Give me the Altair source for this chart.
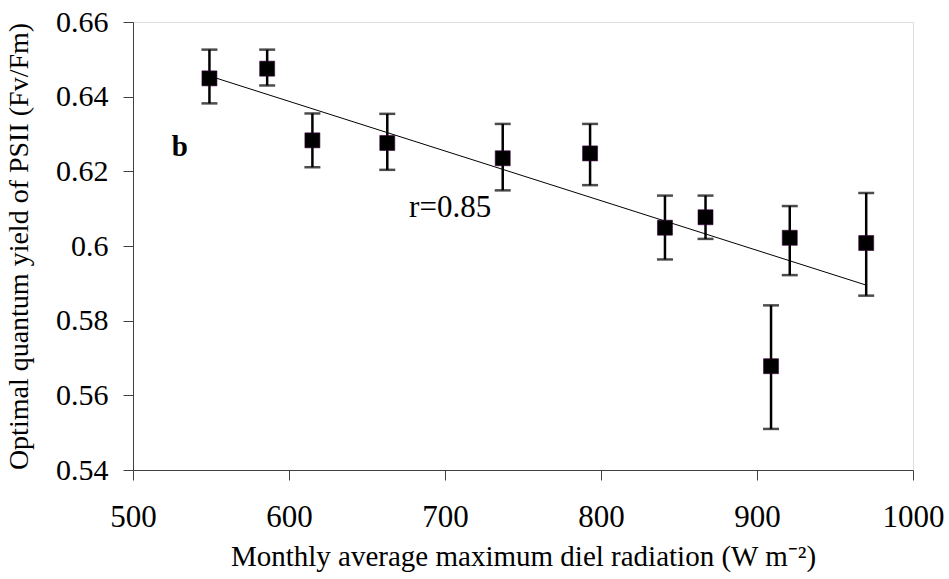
import altair as alt
import pandas as pd

# Monthly average maximum diel radiation (W m-2)
radiation = [549, 586, 615, 663, 737, 793, 841, 867, 909, 921, 970]
# Optimal quantum yield of PSII (Fv/Fm)
fvfm = [0.6449, 0.6475, 0.6283, 0.6276, 0.6235, 0.6248, 0.6049, 0.6077, 0.5678, 0.6022, 0.6008]
err_hi = [0.6526, 0.6526, 0.6355, 0.6354, 0.6327, 0.6327, 0.6135, 0.6135, 0.5841, 0.6107, 0.6142]
err_lo = [0.6382, 0.6430, 0.6211, 0.6204, 0.6149, 0.6163, 0.5964, 0.6019, 0.5510, 0.5922, 0.5867]
x_ticks = [500, 600, 700, 800, 900, 1000]
y_ticks = [0.54, 0.56, 0.58, 0.60, 0.62, 0.64, 0.66]

df = pd.DataFrame({"rad": radiation, "y": fvfm, "hi": err_hi, "lo": err_lo})

FONT = "Liberation Serif"

x_enc = alt.X("rad:Q", scale=alt.Scale(domain=[500, 1000], nice=False),
              axis=alt.Axis(title="Monthly average maximum diel radiation (W m⁻²)",
                            values=x_ticks, format="d", labelPadding=22, titlePadding=10,
                            labelFontSize=31, titleFontSize=29))
y_scale = alt.Scale(domain=[0.54, 0.66], nice=False, zero=False)
y_axis = alt.Axis(title="Optimal quantum yield of PSII (Fv/Fm)",
                  values=y_ticks, format="~g", labelPadding=15, titlePadding=22,
                  labelFontSize=30, titleFontSize=28)

base = alt.Chart(df)

bars = base.mark_rule(color="black", strokeWidth=2.5).encode(
    x=x_enc, y=alt.Y("lo:Q", scale=y_scale, axis=y_axis), y2="hi:Q")
caps_hi = base.mark_tick(color="black", thickness=2.5, size=16, orient="horizontal").encode(
    x="rad:Q", y="hi:Q")
caps_lo = base.mark_tick(color="black", thickness=2.5, size=16, orient="horizontal").encode(
    x="rad:Q", y="lo:Q")
trend = base.transform_regression("rad", "y").mark_line(color="black", strokeWidth=1).encode(
    x="rad:Q", y="y:Q")
points = base.mark_square(size=225, color="black", opacity=1, stroke="#3a003a",
                          strokeWidth=0.6, filled=True).encode(x="rad:Q", y="y:Q")

notes = pd.DataFrame({"rad": [677], "y": [0.6103], "t": ["r=0.85"]})
r_text = alt.Chart(notes).mark_text(align="left", baseline="middle", font=FONT,
                                     fontSize=31, color="black").encode(
    x="rad:Q", y="y:Q", text="t:N")
panel = pd.DataFrame({"rad": [530], "y": [0.6266], "t": ["b"]})
b_text = alt.Chart(panel).mark_text(align="center", baseline="middle", font=FONT,
                                     fontSize=29, fontWeight="bold", color="black").encode(
    x="rad:Q", y="y:Q", text="t:N")

chart = alt.layer(bars, caps_hi, caps_lo, trend, points, r_text, b_text).properties(
    width=780, height=448,
    autosize=alt.AutoSizeParams(type="none"),
    padding={"left": 133, "top": 22, "right": 36, "bottom": 109},
).configure_view(stroke=None).configure(background="white").configure_axis(
    grid=False, labelFont=FONT, titleFont=FONT,
    titleFontWeight="normal", labelColor="black", titleColor="black",
    domainColor="#404040", tickColor="#404040", tickSize=10, labelFlush=False,
)

chart.save("out.html", embed_options={"renderer": "svg", "actions": False})
